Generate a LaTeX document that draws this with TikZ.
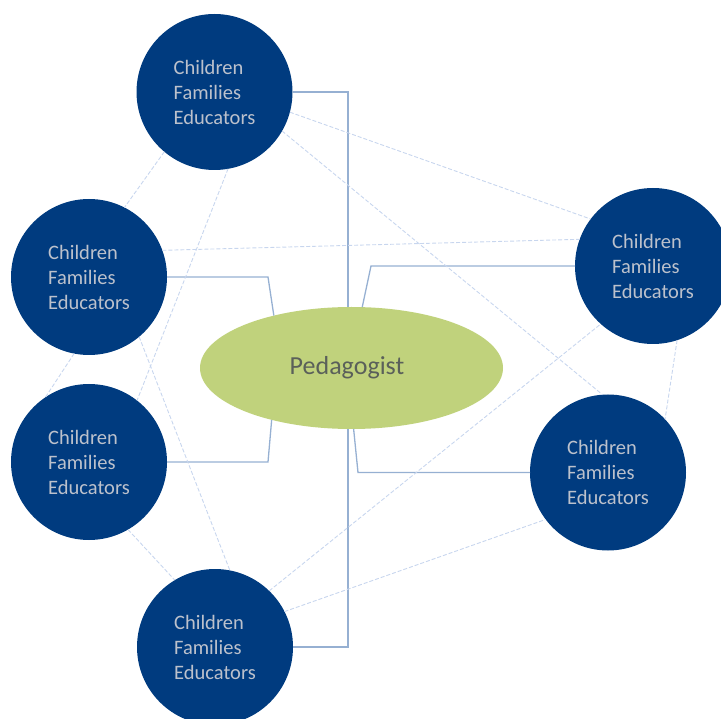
\documentclass[tikz,border=0pt]{standalone}
\usepackage{fontspec}
\setmainfont{Carlito}
\usepackage{tikz}
\usetikzlibrary{shapes.geometric}
\definecolor{navyfill}{RGB}{0,59,127}
\definecolor{labelgray}{RGB}{188,193,204}
\definecolor{pedgreen}{RGB}{192,210,124}
\definecolor{pedtext}{RGB}{90,96,90}
\definecolor{linkblue}{RGB}{150,176,210}
\definecolor{tieblue}{RGB}{200,214,238}

\begin{document}
\begin{tikzpicture}[x=1pt, y=-1pt,
        group/.style={circle, fill=navyfill, minimum size=156pt, inner sep=0pt, outer sep=0pt,
            text=labelgray, align=left, font=\fontsize{20.5}{25}\selectfont},
        link/.style={linkblue, line width=1.3pt},
        tie/.style={tieblue, line width=0.9pt, dash pattern=on 4pt off 2pt}]
        \useasboundingbox (0,0) rectangle (721,719);
        \node[group] (ctop) at (214.5,92) {Children\\Families\\Educators};
        \node[group] (cleftup) at (89,277) {Children\\Families\\Educators};
        \node[group] (cleftdown) at (89,462) {Children\\Families\\Educators};
        \node[group] (cbottom) at (215,647) {Children\\Families\\Educators};
        \node[group] (crightup) at (653,266) {Children\\Families\\Educators};
        \node[group] (crightdown) at (608,472.5) {Children\\Families\\Educators};
        \node[ellipse, fill=pedgreen, minimum width=303pt, minimum height=122pt, inner sep=0pt, outer sep=0pt,
            text=pedtext, font=\fontsize{26}{30}\selectfont] (ped) at (351.5,368) {Pedagogist\hspace*{9pt}};
        \draw[link] (ctop.east) -| ([xshift=-3.5pt]ped.north);
        \draw[link] (cbottom.east) -| ([xshift=-3.5pt]ped.south);
        \draw[link] (cleftup.east) -- +(101,0) -- (ped.146.5);
        \draw[link] (cleftdown.east) -- +(101,0) -- (ped.213.5);
        \draw[link] (crightup.west) -- +(-204,0) -- (ped.80);
        \draw[link] (crightdown.west) -- +(-172,0) -- (ped.-88);
        \draw[tie] (ctop.230.9) -- (cleftup.63);
        \draw[tie] (ctop.280) -- (cleftdown.52);
        \draw[tie] (ctop.345) -- (crightup.143.6);
        \draw[tie] (ctop.330) -- (crightdown.94.3);
        \draw[tie] (cleftup.20.9) -- (crightup.160.2);
        \draw[tie] (cleftup.259.3) -- (cleftdown.124.9);
        \draw[tie] (cleftup.310.8) -- (cbottom.79.2);
        \draw[tie] (cleftdown.300.6) -- (cbottom.121.3);
        \draw[tie] (cbottom.46.4) -- (crightup.228.9);
        \draw[tie] (cbottom.27.8) -- (crightdown.217.1);
        \draw[tie] (crightup.288.9) -- (crightdown.43.2);
\end{tikzpicture}
\end{document}
